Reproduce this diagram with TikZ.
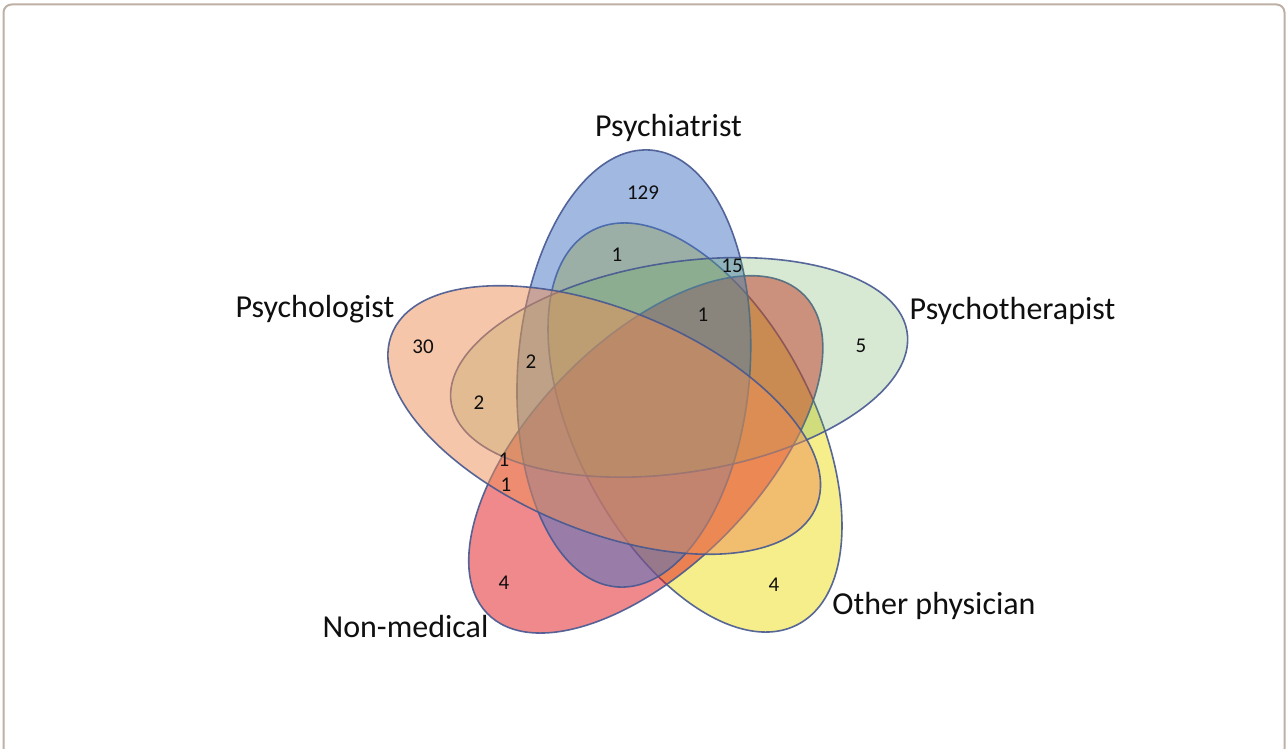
\documentclass[tikz,border=0pt]{standalone}
\usepackage{fontspec}
\setmainfont{Carlito}
\definecolor{framec}{RGB}{191,176,166}
\definecolor{lineblue}{RGB}{70,88,145}
\definecolor{cblue}{RGB}{68,114,196}
\definecolor{cgreen}{RGB}{100,170,80}
\definecolor{cyellow}{RGB}{239,223,25}
\definecolor{cred}{RGB}{225,21,27}
\definecolor{corange}{RGB}{237,143,85}
\definecolor{txt}{RGB}{15,15,15}
\tikzset{
  venn/.style={fill opacity=0.5, draw=lineblue, draw opacity=0.9, line width=1.6pt},
  num/.style={font=\fontsize{21}{24}\selectfont, text=txt, inner sep=0pt},
  setlabel/.style={font=\fontsize{32}{38}\selectfont, text=txt, inner sep=0pt, anchor=base}
}
\begin{document}
\begin{tikzpicture}[x=1pt,y=1pt]
\useasboundingbox (0,0) rectangle (1286,748);
\clip (0,0) rectangle (1286,748);
\fill[white] (0,0) rectangle (1286,748);
\draw[framec, line width=2pt, rounded corners=8pt] (3.5,-10) -- (3.5,743.5) -- (1284.5,743.5) -- (1284.5,-10);
% Other physician (yellow), drawn first
\filldraw[venn, fill=cyellow, shift={(695,320.5)}, rotate=-62.47] (0,0) ellipse [x radius=222.2, y radius=118.6];
\begin{scope}[shift={(650,338)}, xscale=1.055]
  % order: red, blue, green, orange
  \foreach \cx/\cy/\ang/\ra/\rb/\col/\op in {
      -4/-44.4/-132/219/110/cred/0.5,
      -15.3/41.5/86/219/110/cblue/0.5,
      27.6/42.6/9.6/219/105/cgreen/0.25,
      -43.4/-10/156/219/110/corange/0.5}
    \filldraw[venn, fill=\col, fill opacity=\op, shift={(\cx,\cy)}, rotate=\ang] (0,0) ellipse [x radius=\ra, y radius=\rb];
\end{scope}
\node[num] (n129) at (643,555) {129};
\node[num] (n1a) at (617,493) {1};
\node[num] (n15) at (732,482) {15};
\node[num] (n1b) at (703,433) {1};
\node[num] (n5) at (861,402) {5};
\node[num] (n30) at (423,401) {30};
\node[num] (n2a) at (531,386) {2};
\node[num] (n2b) at (479,345) {2};
\node[num] (n1c) at (504,288) {1};
\node[num] (n1d) at (506,263) {1};
\node[num] (n4a) at (504,165) {4};
\node[num] (n4b) at (774,163) {4};
\node[setlabel] (lpsychiatrist) at (668.5,611) {Psychiatrist};
\node[setlabel] (lpsychologist) at (315,430) {Psychologist};
\node[setlabel] (lpsychotherapist) at (1012.5,428) {Psychotherapist};
\node[setlabel] (lother) at (934,134) {Other physician};
\node[setlabel] (lnonmed) at (405.5,111) {Non-medical};
\end{tikzpicture}
\end{document}
